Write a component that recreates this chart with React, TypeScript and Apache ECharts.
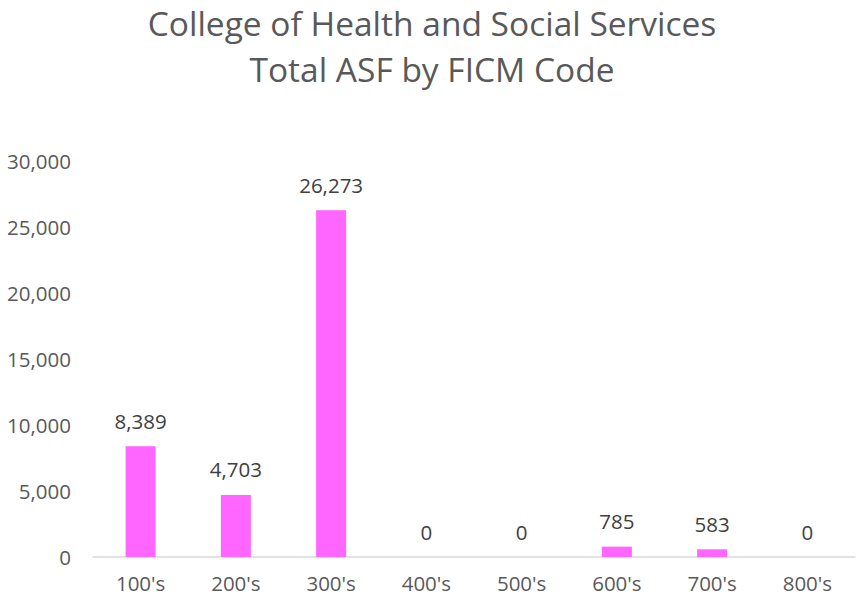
import React, { useEffect, useRef } from "react";
import * as echarts from "echarts";

const titleLines = ["College of Health and Social Services", "Total ASF by FICM Code"];
const categories = ["100's", "200's", "300's", "400's", "500's", "600's", "700's", "800's"];
const values = [8389, 4703, 26273, 0, 0, 785, 583, 0];
const yTicks = [0, 5000, 10000, 15000, 20000, 25000, 30000];

const FONT = "'Open Sans', 'Noto Sans', sans-serif";

export default function App() {
  const ref = useRef<HTMLDivElement>(null);
  useEffect(() => {
    const chart = echarts.init(ref.current!, null, { renderer: "svg" });
    chart.setOption({
      animation: false,
      backgroundColor: "#ffffff",
      title: {
        text: titleLines.join("\n"),
        left: "center",
        top: 0,
        padding: 0,
        textStyle: {
          fontFamily: FONT,
          fontSize: 33.5,
          fontWeight: "normal",
          color: "#595959",
          lineHeight: 46,
        },
      },
      grid: { left: 93, right: 9, top: 161, bottom: 45, containLabel: false },
      xAxis: {
        type: "category",
        data: categories,
        axisLine: { show: true, lineStyle: { color: "#d9d9d9", width: 1.5 } },
        axisTick: { show: false },
        axisLabel: { color: "#595959", fontFamily: FONT, fontSize: 20.5, margin: 15 },
      },
      yAxis: {
        type: "value",
        min: yTicks[0],
        max: yTicks[yTicks.length - 1],
        interval: 5000,
        splitLine: { show: false },
        axisLine: { show: false },
        axisTick: { show: false },
        axisLabel: {
          color: "#595959",
          fontFamily: FONT,
          fontSize: 20.5,
          margin: 22,
          formatter: (v: number) => v.toLocaleString("en-US"),
        },
      },
      series: [
        {
          type: "bar",
          data: values,
          barWidth: "31.5%",
          itemStyle: { color: "#ff66ff" },
          label: {
            show: true,
            position: "top",
            distance: 15,
            color: "#404040",
            fontFamily: FONT,
            fontSize: 20.5,
            formatter: (p: any) => Number(p.value).toLocaleString("en-US"),
          },
        },
      ],
    });
    return () => chart.dispose();
  }, []);
  return <div ref={ref} style={{ width: 864, height: 602, position: "absolute", left: 0, top: 0 }} />;
}
